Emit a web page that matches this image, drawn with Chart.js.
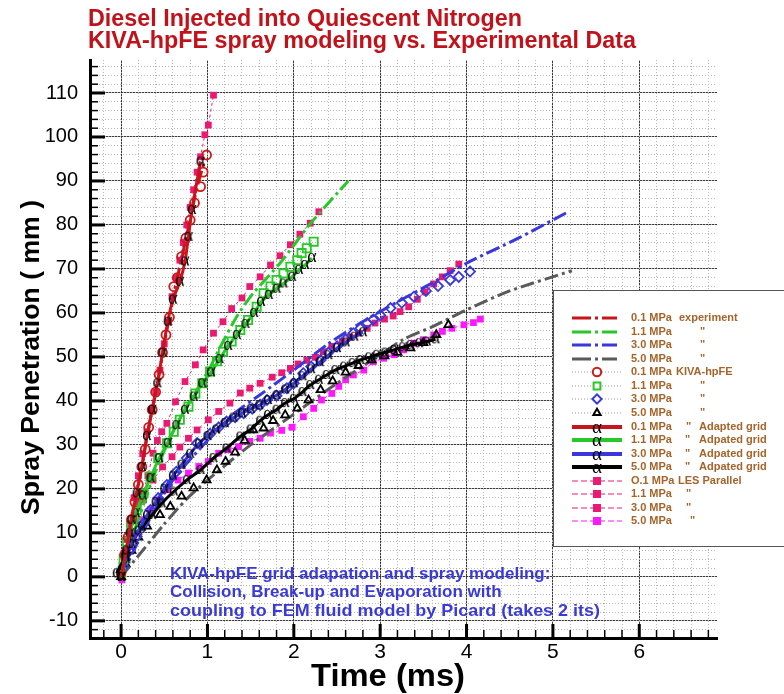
<!DOCTYPE html>
<html>
<head>
<meta charset="utf-8">
<script src="https://cdn.jsdelivr.net/npm/chart.js@4.4.1/dist/chart.umd.min.js"></script>
<style>
  html, body { margin: 0; padding: 0; background: #fff; }
  canvas { display: block; }
</style>
</head>
<body>
<canvas id="chart" width="784" height="694"></canvas>
<script>
// ---- axis ticks ----
const xTicks = [0, 1, 2, 3, 4, 5, 6];
const yTicks = [-10, 0, 10, 20, 30, 40, 50, 60, 70, 80, 90, 100, 110];

// ---- series: [time (ms), penetration (mm)] ----
// experiment (dash-dot lines)
const exp01 = [[0,0],[0.05,5],[0.1,11],[0.15,16],[0.2,21],[0.25,26],[0.3,32],[0.35,37],[0.4,42],[0.45,47],[0.5,53],[0.55,58],[0.6,63],[0.65,68],[0.7,72],[0.75,77],[0.8,81],[0.85,86],[0.9,90],[0.96,94]];
const exp11 = [[0,0],[0.2,13],[0.4,24],[0.6,33],[0.8,40],[1.0,46.5],[1.15,52.3],[1.34,59.2],[1.53,64.5],[1.84,71.3],[2.2,80.5],[2.63,90]];
const exp30 = [[0,0],[0.3,12],[0.6,22],[1.0,31],[1.3,37],[1.61,41.4],[2.0,47],[2.4,53],[2.77,57.7],[3.2,62.5],[3.6,66.8],[4.0,71.3],[4.6,77],[5.16,82.8]];
const exp50 = [[0,0],[0.25,6],[0.5,12],[0.75,17.5],[1.0,22],[1.5,30],[2.0,37],[2.5,44],[3.0,50.5],[3.27,54],[3.62,57],[4.0,60.7],[4.5,65],[5.22,69.6]];

// KIVA-hpFE (open markers)
const kiva01 = [[0.0,1],[0.04,5],[0.08,9],[0.12,13],[0.16,17],[0.2,21],[0.24,25],[0.28,29],[0.32,34],[0.36,38],[0.4,42],[0.44,46],[0.48,51],[0.52,55],[0.56,59],[0.61,66],[0.65,68],[0.7,72.8],[0.75,77],[0.8,81.1],[0.85,85],[0.92,88.7],[0.95,92],[0.99,95.9]];
const kiva11 = [[0,1],[0.03,4],[0.07,8],[0.12,11.5],[0.18,15.2],[0.26,19],[0.34,22.8],[0.43,27],[0.53,30.4],[0.61,33],[0.68,35.7],[0.78,38.7],[0.86,41.7],[0.94,44],[1.03,46.7],[1.11,49],[1.18,51.2],[1.28,53.5],[1.38,56.1],[1.47,58.4],[1.57,61.4],[1.65,64.5],[1.73,66],[1.8,67.5],[1.88,69],[1.96,70.5],[2.04,72],[2.09,73.6],[2.15,74.7],[2.23,76.2]];
const kiva30 = [[0.03,2.3],[0.1,6],[0.18,9.2],[0.26,12.2],[0.34,15.2],[0.43,17.9],[0.53,20.9],[0.64,23.9],[0.76,27],[0.88,30.4],[1.03,32.5],[1.13,34],[1.22,35.3],[1.32,36.3],[1.42,37.2],[1.52,38.2],[1.61,39.1],[1.69,40.2],[1.8,41.2],[1.92,42.9],[2.0,44],[2.11,46.3],[2.2,47.8],[2.31,49.3],[2.4,51],[2.5,52.4],[2.6,54],[2.69,55.4],[2.77,56.5],[2.85,57.7],[2.92,58.5],[3.0,59.5],[3.12,61.1],[3.25,62.3],[3.39,63.7],[3.53,65],[3.67,66.1],[3.81,67.5],[3.91,68.2],[4.04,69.4]];
const kiva50 = [[0,0],[0.05,3],[0.12,6],[0.2,9],[0.3,11.5],[0.45,14.1],[0.57,16],[0.7,18.3],[0.84,20.2],[0.99,22],[1.11,24.3],[1.21,26.2],[1.32,28.3],[1.43,31],[1.53,33.4],[1.65,33.8],[1.76,35.5],[1.9,36.8],[2.04,38.3],[2.17,40.2],[2.31,42.5],[2.45,44.5],[2.6,46.5],[2.75,48],[2.9,49.3],[3.05,50.2],[3.2,51],[3.35,52],[3.5,53.2],[3.65,55],[3.79,57.3]];

// KIVA-hpFE adapted grid (solid lines, alpha markers)
const adapt01 = [[0,0],[0.06,6],[0.12,13],[0.18,19],[0.24,25],[0.3,32],[0.36,38],[0.42,44],[0.48,51],[0.54,58],[0.6,63],[0.68,67.1],[0.74,71.7],[0.78,77.3],[0.82,83.4],[0.92,94.4]];
const adapt11 = [[0,0],[0.05,5],[0.1,10],[0.17,14.5],[0.25,18.5],[0.34,22.5],[0.44,27],[0.54,30.5],[0.64,34.5],[0.74,38],[0.84,41],[0.94,44],[1.04,46.5],[1.14,49.5],[1.24,52.5],[1.34,55],[1.44,57.5],[1.54,60],[1.62,62.5],[1.71,64.1],[1.8,65.5],[1.88,66.7],[1.98,68.2],[2.06,69.8],[2.13,70.9],[2.21,72.5]];
const adapt30 = [[0,0],[0.06,4],[0.12,7.5],[0.2,10.5],[0.3,14],[0.4,17],[0.5,20],[0.6,23],[0.7,25.5],[0.8,28],[0.9,30.3],[1.0,32],[1.1,33.5],[1.2,35],[1.3,36.2],[1.4,37.2],[1.5,38.2],[1.6,39],[1.7,40.2],[1.8,41.3],[1.9,42.6],[2.0,44],[2.1,45.6],[2.2,47.2],[2.3,48.8],[2.4,50.4],[2.5,52],[2.6,53.3],[2.7,54.6],[2.8,55.6]];
const adapt50 = [[-0.05,0.8],[0.05,4.6],[0.14,8.4],[0.24,11.4],[0.36,14.1],[0.47,16.7],[0.61,19.4],[0.76,22],[0.92,24.3],[1.07,27],[1.22,29.2],[1.38,31.9],[1.5,33.5],[1.61,35.5],[1.7,36.8],[1.8,38],[1.9,39.5],[2.0,40.5],[2.1,42],[2.19,43.6],[2.29,44.8],[2.38,45.9],[2.48,47],[2.58,47.8],[2.68,48.6],[2.77,49.3],[2.87,49.9],[2.96,50.5],[3.06,51],[3.16,51.6],[3.26,52.2],[3.35,52.7],[3.45,53.1],[3.54,53.5],[3.64,54]];

// LES parallel (filled squares, thin dashed lines)
const les01 = [[0,0],[0.05,6],[0.1,12],[0.15,18],[0.2,23],[0.25,28],[0.3,33],[0.35,38],[0.4,42],[0.45,47],[0.5,53],[0.55,58],[0.59,63.7],[0.64,68],[0.68,72],[0.72,76],[0.76,80],[0.8,84],[0.84,88],[0.88,92],[0.92,95.5],[0.97,100.5],[1.01,102.7],[1.07,109.5]];
const les11 = [[0,0],[0.05,5],[0.1,10],[0.15,14],[0.2,17],[0.26,19.4],[0.31,23],[0.37,28.1],[0.42,31],[0.47,33],[0.53,34.9],[0.63,39.8],[0.74,44.4],[0.86,48.2],[0.95,51.6],[1.07,55.4],[1.18,58],[1.28,61],[1.4,63.4],[1.49,66],[1.61,68.2],[1.73,70.9],[1.84,73],[1.96,75.5],[2.07,77.9],[2.19,80.4],[2.29,83]];
const les30 = [[0.01,2.5],[0.07,8.5],[0.14,13],[0.26,17.5],[0.37,22],[0.48,25],[0.59,27.3],[0.68,29.5],[0.78,31.5],[0.88,33.4],[1.01,35.7],[1.13,37.6],[1.26,39.5],[1.38,41.8],[1.49,42.9],[1.61,44],[1.75,45.4],[1.86,46.4],[1.96,47.4],[2.05,48.4],[2.15,49.2],[2.25,49.9],[2.34,51.2],[2.44,52.4],[2.56,53.5],[2.65,54.5],[2.75,55.4],[2.85,56.5],[2.94,57.7],[3.05,58.6],[3.15,59.3],[3.23,60.3],[3.33,61.4],[3.43,63.1],[3.52,64.8],[3.62,66.6],[3.72,68.2],[3.81,69.6],[3.91,71.1]];
const les50 = [[0.01,-0.7],[0.05,3.9],[0.1,6.9],[0.18,9.9],[0.26,13],[0.34,15.2],[0.43,17.5],[0.53,19.8],[0.66,22],[0.78,23.6],[0.9,25.1],[1.01,26.2],[1.13,28.1],[1.24,28.9],[1.36,29.6],[1.49,30.8],[1.61,31.5],[1.73,32.7],[1.86,33.3],[1.98,34],[2.11,36.4],[2.23,38.3],[2.32,40.2],[2.44,41.7],[2.52,43.3],[2.6,44.8],[2.69,45.9],[2.81,47],[2.92,48.9],[3.04,49.7],[3.16,50.5],[3.27,51.6],[3.39,53.1],[3.5,53.9],[3.62,55],[3.72,55.8],[3.83,56.5],[3.97,57.3],[4.08,57.8],[4.16,58.6]];

// ---- styling ----
const SANS = '"Liberation Sans", Arial, sans-serif';
const RED = '#c8141c', GREEN = '#27c827', BLUE = '#3838dc', GRAY = '#5a5a5a';
const PINK = '#ea1a72', MAGENTA = '#ff18ff';
const LEGEND_TEXT = '#a5642a';
const DASHDOT = [14, 4, 3, 4];

function makeAlpha(px) {
  const c = document.createElement('canvas');
  c.width = 16; c.height = 18;
  const g = c.getContext('2d');
  g.font = px + 'px "Liberation Serif", "DejaVu Serif", serif';
  g.fillStyle = '#000';
  g.textAlign = 'center';
  g.textBaseline = 'middle';
  g.fillText('\u03b1', 8, 8);
  return c;
}
const alphaPlot = makeAlpha(18);
const alphaLegend = makeAlpha(19);

const expSet = (label, data, color) => ({
  label, data, borderColor: color, borderWidth: 3, borderDash: DASHDOT,
  pointRadius: 0, tension: 0.25, fill: false
});
const kivaSet = (label, data, color, style, r) => ({
  label, data, showLine: false, pointStyle: style, pointRadius: r,
  pointBorderColor: color, pointBackgroundColor: 'rgba(0,0,0,0)', pointBorderWidth: 1.8
});
const adaptSet = (label, data, color) => ({
  label, data, borderColor: color, borderWidth: 3, tension: 0.2,
  pointStyle: alphaPlot, pointRadius: 5
});
const lesSet = (label, data, color) => ({
  label, data, borderColor: color, borderWidth: 1, borderDash: [3, 3],
  pointStyle: 'rect', pointRadius: 4.8, pointBackgroundColor: color, pointBorderColor: color, pointBorderWidth: 0
});

// minor tick positions (every 0.2 ms, every 2 mm)
const xMinor = [], yMinor = [];
for (let i = -1; i <= 34; i++) xMinor.push(Math.round(i * 2) / 10);
for (let v = -12; v <= 116; v += 2) yMinor.push(v);

const fitText = (ctx, text, x, y, width, font, color, rotate) => {
  ctx.save();
  ctx.font = font;
  ctx.fillStyle = color;
  ctx.textBaseline = 'middle';
  ctx.textAlign = 'left';
  const w = ctx.measureText(text).width;
  ctx.translate(x, y);
  if (rotate) ctx.rotate(-Math.PI / 2);
  if (width) ctx.scale(width / w, 1);
  ctx.fillText(text, 0, 0);
  ctx.restore();
};

// inward axis ticks
const innerTicks = {
  id: 'innerTicks',
  afterDatasetsDraw(chart) {
    const { ctx, chartArea: a, scales: { x, y } } = chart;
    ctx.save();
    ctx.strokeStyle = '#000';
    const tick = (x1, y1, x2, y2, w) => {
      ctx.lineWidth = w; ctx.beginPath(); ctx.moveTo(x1, y1); ctx.lineTo(x2, y2); ctx.stroke();
    };
    yMinor.forEach(v => { const p = y.getPixelForValue(v); tick(a.left, p, a.left + 8, p, 1.5); });
    yTicks.forEach(v => { const p = y.getPixelForValue(v); tick(a.left, p, a.left + 15, p, 3); });
    xMinor.forEach(v => { const p = x.getPixelForValue(v); tick(p, a.bottom, p, a.bottom - 8, 1.5); });
    xTicks.forEach(v => { const p = x.getPixelForValue(v); tick(p, a.bottom, p, a.bottom - 14, 3); });
    ctx.restore();
  }
};

// legend rows: sample kind, colour, text pieces [text, x]
const legendRows = [
  { kind: 'exp', color: RED, parts: [['0.1 MPa', 631], ['experiment', 679]] },
  { kind: 'exp', color: GREEN, parts: [['1.1 MPa', 631], ['"', 700]] },
  { kind: 'exp', color: BLUE, parts: [['3.0 MPa', 631], ['"', 700]] },
  { kind: 'exp', color: GRAY, parts: [['5.0 MPa', 631], ['"', 700]] },
  { kind: 'kiva', color: '#d01818', style: 'circle', r: 4.2, parts: [['0.1 MPa', 631], ['KIVA-hpFE', 676]] },
  { kind: 'kiva', color: GREEN, style: 'rect', r: 4.8, parts: [['1.1 MPa', 631], ['"', 700]] },
  { kind: 'kiva', color: BLUE, style: 'rectRot', r: 4.6, parts: [['3.0 MPa', 631], ['"', 700]] },
  { kind: 'kiva', color: '#000', style: 'triangle', r: 4.2, parts: [['5.0 MPa', 631], ['"', 700]] },
  { kind: 'adapt', color: RED, parts: [['0.1 MPa', 631], ['"', 686], ['Adapted grid', 699]] },
  { kind: 'adapt', color: GREEN, parts: [['1.1 MPa', 631], ['"', 685], ['Adpated grid', 699]] },
  { kind: 'adapt', color: BLUE, parts: [['3.0 MPa', 631], ['"', 685], ['Adpated grid', 699]] },
  { kind: 'adapt', color: '#000', parts: [['5.0 MPa', 631], ['"', 685], ['Adpated grid', 699]] },
  { kind: 'les', color: PINK, parts: [['O.1 MPa', 631], ['LES Parallel', 678]] },
  { kind: 'les', color: PINK, parts: [['1.1 MPa', 631], ['"', 686]] },
  { kind: 'les', color: PINK, parts: [['3.0 MPa', 631], ['"', 686]] },
  { kind: 'les', color: MAGENTA, parts: [['5.0 MPa', 631], ['"', 690]] }
];

const decor = {
  id: 'decor',
  afterDraw(chart) {
    const ctx = chart.ctx;
    // titles
    fitText(ctx, 'Diesel Injected into Quiescent Nitrogen', 88, 19, 434, 'bold 24px ' + SANS, '#c0121a');
    fitText(ctx, 'KIVA-hpFE spray modeling vs. Experimental Data', 88, 41, 548, 'bold 24px ' + SANS, '#c0121a');
    // axis titles
    fitText(ctx, 'Time (ms)', 311, 677, 154, 'bold 31px ' + SANS, '#000');
    fitText(ctx, 'Spray Penetration ( mm )', 32, 515, 315, 'bold 26px ' + SANS, '#000', true);
    // note
    const blue = '#3a3ad6', nf = 'bold 17px ' + SANS;
    fitText(ctx, 'KIVA-hpFE grid adapation and spray modeling:', 170, 574, 0, nf, blue);
    fitText(ctx, 'Collision, Break-up and Evaporation with', 170, 592, 0, nf, blue);
    fitText(ctx, 'coupling to FEM fluid model by Picard (takes 2 its)', 170, 611, 430, nf, blue);

    // legend box
    ctx.save();
    ctx.fillStyle = '#fff';
    ctx.strokeStyle = '#555';
    ctx.lineWidth = 1;
    ctx.fillRect(553.5, 290.5, 240, 256);
    ctx.strokeRect(553.5, 290.5, 240, 256);
    legendRows.forEach((row, i) => {
      const yy = Math.round(318.3 + i * 13.53);
      ctx.save();
      if (row.kind === 'exp') {
        ctx.strokeStyle = row.color; ctx.lineWidth = 3; ctx.setLineDash([19, 4, 3, 4]);
        ctx.beginPath(); ctx.moveTo(572, yy); ctx.lineTo(617, yy); ctx.stroke();
      } else if (row.kind === 'kiva') {
        ctx.strokeStyle = '#9a9a9a'; ctx.lineWidth = 1; ctx.setLineDash([1, 2]);
        ctx.beginPath(); ctx.moveTo(572, yy); ctx.lineTo(622, yy); ctx.stroke();
        ctx.setLineDash([]);
        ctx.fillStyle = '#fff'; ctx.strokeStyle = row.color; ctx.lineWidth = 2;
        Chart.helpers.drawPoint(ctx, { pointStyle: row.style, radius: row.r, borderWidth: 2, rotation: 0 }, 597, yy);
      } else if (row.kind === 'adapt') {
        ctx.strokeStyle = row.color; ctx.lineWidth = 4;
        ctx.beginPath(); ctx.moveTo(572, yy); ctx.lineTo(622, yy); ctx.stroke();
        ctx.drawImage(alphaLegend, 597 - 8, yy - 7);
      } else {
        ctx.strokeStyle = row.color; ctx.lineWidth = 1; ctx.setLineDash([6, 3]);
        ctx.beginPath(); ctx.moveTo(572, yy); ctx.lineTo(622, yy); ctx.stroke();
        ctx.fillStyle = row.color;
        ctx.fillRect(593, yy - 4, 8, 8);
      }
      ctx.restore();
      ctx.fillStyle = LEGEND_TEXT;
      ctx.font = 'bold 11px ' + SANS;
      ctx.textBaseline = 'middle';
      row.parts.forEach(([t, px]) => ctx.fillText(t, px, yy));
    });
    ctx.restore();
  }
};

const minorAxis = (position, min, max, ticks, horizontal) => ({
  type: 'linear', position, min, max, display: true,
  afterBuildTicks: s => { s.ticks = ticks.map(v => ({ value: v })); },
  afterFit: s => { if (horizontal) s.height = 0; else s.width = 0; },
  grid: { color: '#b8b8b8', lineWidth: 1, drawTicks: false },
  border: { display: false, dash: [1, 2] },
  ticks: { display: false }
});

new Chart(document.getElementById('chart'), {
  type: 'line',
  data: {
    datasets: [
      adaptSet('0.1 MPa " Adapted grid', adapt01, RED),
      adaptSet('1.1 MPa " Adpated grid', adapt11, GREEN),
      adaptSet('3.0 MPa " Adpated grid', adapt30, BLUE),
      adaptSet('5.0 MPa " Adpated grid', adapt50, '#000'),
      kivaSet('0.1 MPa KIVA-hpFE', kiva01, '#d01818', 'circle', 4.5),
      kivaSet('1.1 MPa KIVA-hpFE', kiva11, GREEN, 'rect', 5.8),
      kivaSet('3.0 MPa KIVA-hpFE', kiva30, BLUE, 'rectRot', 5),
      kivaSet('5.0 MPa KIVA-hpFE', kiva50, '#000', 'triangle', 4.6),
      expSet('0.1 MPa experiment', exp01, RED),
      expSet('1.1 MPa experiment', exp11, GREEN),
      expSet('3.0 MPa experiment', exp30, BLUE),
      expSet('5.0 MPa experiment', exp50, GRAY),
      lesSet('O.1 MPa LES Parallel', les01, PINK),
      lesSet('1.1 MPa LES Parallel', les11, PINK),
      lesSet('3.0 MPa LES Parallel', les30, PINK),
      lesSet('5.0 MPa LES Parallel', les50, MAGENTA)
    ]
  },
  options: {
    responsive: false,
    animation: false,
    devicePixelRatio: 1,
    layout: { padding: { top: 60, right: 67, bottom: 0, left: 0 } },
    plugins: {
      legend: { display: false },
      tooltip: { enabled: false },
      title: { display: false }
    },
    scales: {
      x: {
        type: 'linear', position: 'bottom', min: -0.36, max: 6.9,
        afterBuildTicks: s => { s.ticks = xTicks.map(v => ({ value: v })); },
        afterFit: s => { s.height = 56; },
        grid: { color: '#3a3a3a', lineWidth: 1, drawTicks: false },
        border: { display: true, color: '#000', width: 3 },
        ticks: { font: { family: SANS, size: 21 }, color: '#000', padding: 2, maxRotation: 0, autoSkip: false }
      },
      xm: minorAxis('bottom', -0.36, 6.9, xMinor, true),
      y: {
        type: 'linear', position: 'left', min: -13.9, max: 117.5,
        afterBuildTicks: s => { s.ticks = yTicks.map(v => ({ value: v })); },
        afterFit: s => { s.width = 90; },
        grid: { color: '#3a3a3a', lineWidth: 1, drawTicks: false },
        border: { display: true, color: '#000', width: 3 },
        ticks: { font: { family: SANS, size: 20 }, color: '#000', padding: 12, autoSkip: false }
      },
      ym: minorAxis('left', -13.9, 117.5, yMinor, false)
    }
  },
  plugins: [innerTicks, decor]
});
</script>
</body>
</html>
